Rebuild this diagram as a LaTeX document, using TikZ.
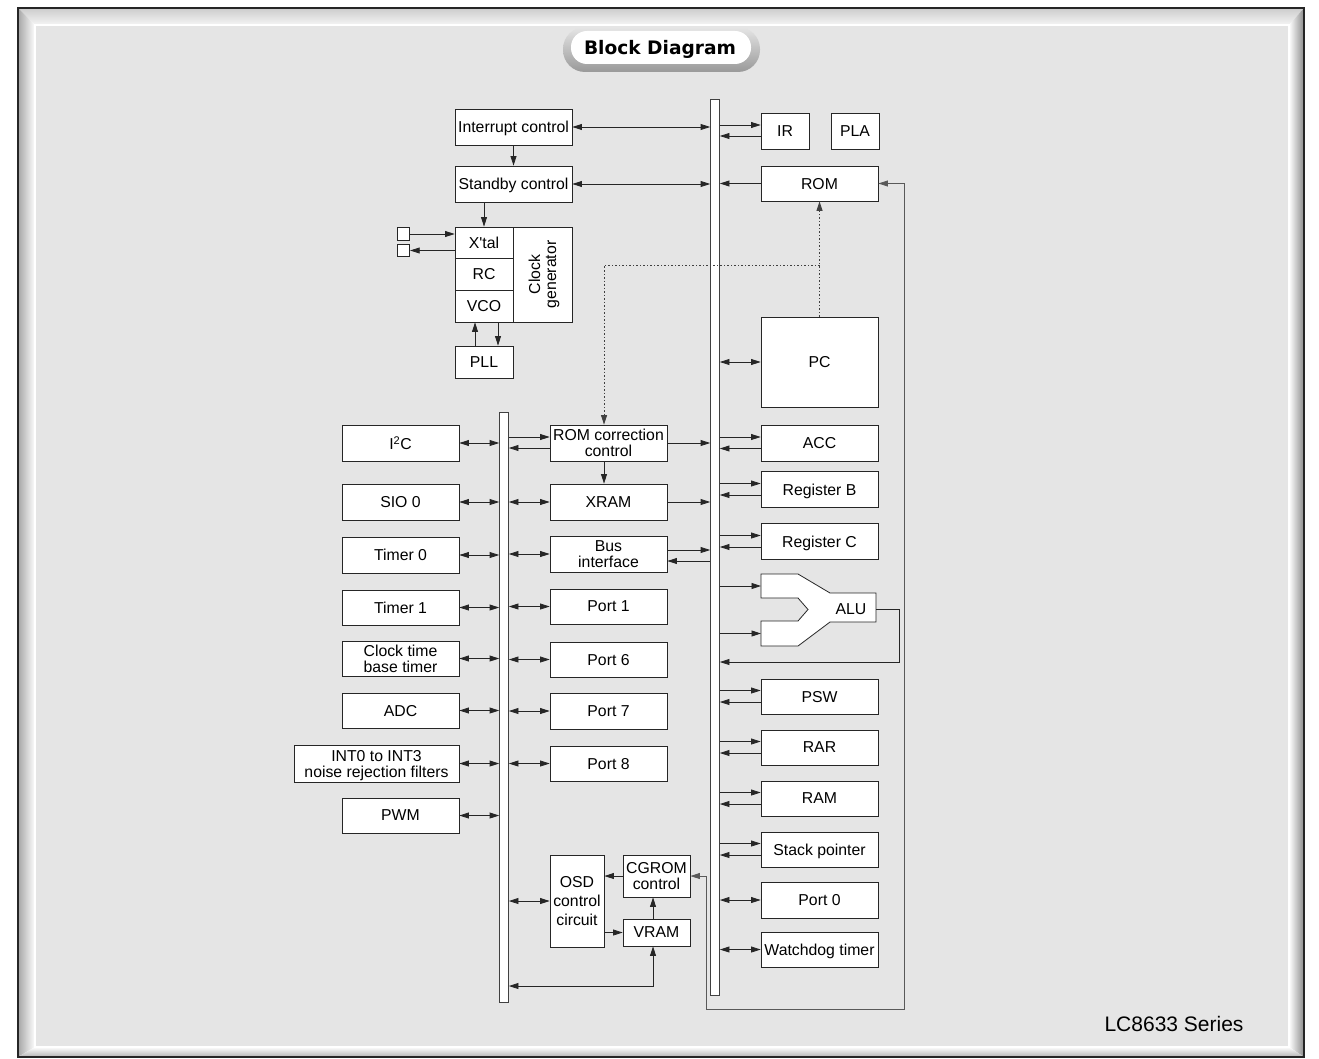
\documentclass[tikz,border=0pt]{standalone}
\usepackage{fontspec}
\setmainfont{Liberation Sans}
\newfontfamily\titlefont{DejaVu Sans}
\usetikzlibrary{arrows.meta,calc}
\tikzset{
  blk/.style={draw=black!85, fill=white, line width=0.8pt, inner sep=0pt,
    minimum width=117pt, minimum height=36pt, align=center, text depth=0pt,
    font=\fontsize{15.8}{16}\selectfont},
  bus/.style={draw=black!75, fill=white, line width=0.8pt, inner sep=0pt, minimum width=9pt},
  link/.style={line width=0.8pt, draw=black!85},
  dotlink/.style={line width=0.9pt, draw=black!75, dash pattern=on 1.5pt off 2pt},
  >={Triangle[length=9.5pt,width=6pt]},
}

\begin{document}
\begin{tikzpicture}[x=1pt,y=-1pt]
\useasboundingbox (0,0) rectangle (1319,1059);
\fill[white] (0,0) rectangle (1319,1059);

%Frame with bevel
\fill[gray!20] (35,25) rectangle (1289,1047);
\shade[top color=gray!40, bottom color=gray!8] (18,8) -- (1304,8) -- (1289,25) -- (35,25) -- cycle;
\shade[left color=gray!70, right color=white] (18,8) -- (35,25) -- (35,1047) -- (18,1057) -- cycle;
\shade[left color=white, right color=gray!90] (1289,25) -- (1304,8) -- (1304,1057) -- (1289,1047) -- cycle;
\shade[top color=white, bottom color=gray!60] (35,1047) -- (1289,1047) -- (1304,1057) -- (18,1057) -- cycle;
\draw[white, line width=1.2pt] (35,25) rectangle (1289,1047);
\draw[black!85, line width=1.2pt] (18,8) rectangle (1304,1057);

%Title
\shade[top color=gray!20, bottom color=gray!80, rounded corners=22pt] (563,27) rectangle (760,72);
\fill[white, rounded corners=16pt] (571,31) rectangle (751,64);
\node[font=\titlefont\bfseries\fontsize{18.6}{20}\selectfont] (title) at (660,49) {Block Diagram};

%Buses
\node[bus, minimum height=896pt] (mbus) at (715,547) {};
\node[bus, minimum height=590pt] (lbus) at (504,707) {};

%Control and clock
\node[blk] (intc) at (513.5,127) {Interrupt control};
\node[blk] (stby) at (513.5,184) {Standby control};
\node[blk, minimum width=58pt, minimum height=31pt] (xtal) at (484,242.5) {X\textquotesingle tal};
\node[blk, minimum width=58pt, minimum height=32pt] (rc) at (484,274) {RC};
\node[blk, minimum width=58pt, minimum height=32pt] (vco) at (484,306) {VCO};
\node[blk, rotate=90, minimum width=95pt, minimum height=59pt] (clkgen) at (542.5,274.5) {Clock\\generator};
\node[draw=black!85, fill=white, line width=0.8pt, inner sep=0pt, minimum size=12.5pt] (xin) at (403.5,234) {};
\node[draw=black!85, fill=white, line width=0.8pt, inner sep=0pt, minimum size=12.5pt] (xout) at (403.5,250.5) {};
\node[blk, minimum width=58pt, minimum height=32pt] (pll) at (484,362) {PLL};

%Right column
\node[blk, minimum width=48pt] (ir) at (785,131) {IR};
\node[blk, minimum width=48pt] (pla) at (855,131) {PLA};
\node[blk, minimum height=35pt] (rom) at (819.5,183.5) {ROM};
\node[blk, minimum height=90pt] (pc) at (819.5,362) {PC};
\node[blk] (acc) at (819.5,443) {ACC};
\node[blk] (regb) at (819.5,489.5) {Register B};
\node[blk] (regc) at (819.5,541.5) {Register C};
%Shape: ALU
\draw[line width=0.8pt, draw=black!85, fill=white] (761,574) -- (798,574) -- (830,593) -- (876,593) -- (876,622) -- (830,622) -- (798,646) -- (761,646) -- (761,621) -- (798,621) -- (808,609.5) -- (798,598) -- (761,598) -- cycle;
\node[font=\fontsize{15.8}{16}\selectfont] (alu) at (851,609) {ALU};
\coordinate (alua) at (761,586);
\coordinate (alub) at (761,633.5);
\coordinate (aluo) at (876,609);
\node[blk, minimum height=35pt] (psw) at (819.5,696.5) {PSW};
\node[blk, minimum height=35pt] (rar) at (819.5,747.5) {RAR};
\node[blk, minimum height=35pt] (ram) at (819.5,798.5) {RAM};
\node[blk, minimum height=35pt] (sp) at (819.5,849.5) {Stack pointer};
\node[blk] (port0) at (819.5,900) {Port 0};
\node[blk, minimum height=35pt] (wdt) at (819.5,949.5) {Watchdog timer};

%Middle column
\node[blk] (romc) at (608.5,443) {ROM correction\\control};
\node[blk] (xram) at (608.5,502) {XRAM};
\node[blk] (busif) at (608.5,554) {Bus\\interface};
\node[blk, minimum height=35pt] (port1) at (608.5,606.5) {Port 1};
\node[blk, minimum height=35pt] (port6) at (608.5,659.5) {Port 6};
\node[blk] (port7) at (608.5,711) {Port 7};
\node[blk, minimum height=35pt] (port8) at (608.5,763.5) {Port 8};

%Left column
\node[blk] (i2c) at (400.5,443) {I\textsuperscript{2}C};
\node[blk] (sio) at (400.5,502) {SIO 0};
\node[blk] (tmr0) at (400.5,555) {Timer 0};
\node[blk, minimum height=35pt] (tmr1) at (400.5,607.5) {Timer 1};
\node[blk, minimum height=35pt] (ctbt) at (400.5,658.5) {Clock time\\base timer};
\node[blk, minimum height=35pt] (adc) at (400.5,710.5) {ADC};
\node[blk, minimum width=165pt, minimum height=37pt] (intf) at (376.5,763.5) {INT0 to INT3\\noise rejection filters};
\node[blk, minimum height=35pt] (pwm) at (400.5,815.5) {PWM};

%OSD
\node[blk, minimum width=54pt, minimum height=92pt, font=\fontsize{15.8}{19}\selectfont] (osd) at (577,901) {OSD\\control\\circuit};
\node[blk, minimum width=67pt, minimum height=42pt] (cgrom) at (656.5,876) {CGROM\\control};
\node[blk, minimum width=67pt, minimum height=27pt] (vram) at (656.5,932.5) {VRAM};

% Text Node
\node[anchor=east, font=\fontsize{21}{24}\selectfont] (series) at (1247,1024) {LC8633 Series};

%Clock connectors
\draw[link,->] (intc) -- (stby);
\draw[link,->] (stby.south -| xtal.north) -- (xtal.north);
\draw[link,->] (xin.east) -- (xin.east -| xtal.west);
\draw[link,->] (xout.east -| xtal.west) -- (xout.east);
\draw[link,->] ([xshift=-9pt]pll.north) -- ([xshift=-9pt]vco.south);
\draw[link,->] ([xshift=14pt]vco.south) -- ([xshift=14pt]pll.north);
\draw[link,<->] (intc.east) -- (intc.east -| mbus.west);
\draw[link,<->] (stby.east) -- (stby.east -| mbus.west);

%Main bus to right column
\draw[link,->] ([yshift=6pt]ir.west -| mbus.east) -- ([yshift=6pt]ir.west);
\draw[link,->] ([yshift=-5pt]ir.west) -- ([yshift=-5pt]ir.west -| mbus.east);
\draw[link,->] (rom.west) -- (rom.west -| mbus.east);
\draw[link,<->] (mbus.east |- pc.west) -- (pc.west);
\draw[link,->] ([yshift=6pt]acc.west -| mbus.east) -- ([yshift=6pt]acc.west);
\draw[link,->] ([yshift=-5.5pt]acc.west) -- ([yshift=-5.5pt]acc.west -| mbus.east);
\draw[link,->] ([yshift=6pt]regb.west -| mbus.east) -- ([yshift=6pt]regb.west);
\draw[link,->] ([yshift=-5.5pt]regb.west) -- ([yshift=-5.5pt]regb.west -| mbus.east);
\draw[link,->] ([yshift=6pt]regc.west -| mbus.east) -- ([yshift=6pt]regc.west);
\draw[link,->] ([yshift=-5.5pt]regc.west) -- ([yshift=-5.5pt]regc.west -| mbus.east);
\draw[link,->] (mbus.east |- alua) -- (alua);
\draw[link,->] (mbus.east |- alub) -- (alub);
\draw[link,->] (aluo) -- ++(23,0) |- (mbus.east |- 0,662);
\draw[link,->] ([yshift=6pt]psw.west -| mbus.east) -- ([yshift=6pt]psw.west);
\draw[link,->] ([yshift=-5.5pt]psw.west) -- ([yshift=-5.5pt]psw.west -| mbus.east);
\draw[link,->] ([yshift=6pt]rar.west -| mbus.east) -- ([yshift=6pt]rar.west);
\draw[link,->] ([yshift=-5.5pt]rar.west) -- ([yshift=-5.5pt]rar.west -| mbus.east);
\draw[link,->] ([yshift=6pt]ram.west -| mbus.east) -- ([yshift=6pt]ram.west);
\draw[link,->] ([yshift=-5.5pt]ram.west) -- ([yshift=-5.5pt]ram.west -| mbus.east);
\draw[link,->] ([yshift=6pt]sp.west -| mbus.east) -- ([yshift=6pt]sp.west);
\draw[link,->] ([yshift=-5.5pt]sp.west) -- ([yshift=-5.5pt]sp.west -| mbus.east);
\draw[link,<->] (mbus.east |- port0.west) -- (port0.west);
\draw[link,<->] (mbus.east |- wdt.west) -- (wdt.west);

%Middle column to buses
\draw[link,->] (romc.east) -- (romc.east -| mbus.west);
\draw[link,->] (xram.east) -- (xram.east -| mbus.west);
\draw[link,->] ([yshift=4pt]busif.east) -- ([yshift=4pt]busif.east -| mbus.west);
\draw[link,->] ([yshift=-7pt]busif.east -| mbus.west) -- ([yshift=-7pt]busif.east);
\draw[link,->] ([yshift=6pt]romc.west -| lbus.east) -- ([yshift=6pt]romc.west);
\draw[link,->] ([yshift=-5pt]romc.west) -- ([yshift=-5pt]romc.west -| lbus.east);
\draw[link,->] ([xshift=-4.5pt]romc.south) -- ([xshift=-4.5pt]xram.north);
\draw[link,<->] (lbus.east |- xram.west) -- (xram.west);
\draw[link,<->] (lbus.east |- busif.west) -- (busif.west);
\draw[link,<->] (lbus.east |- port1.west) -- (port1.west);
\draw[link,<->] (lbus.east |- port6.west) -- (port6.west);
\draw[link,<->] (lbus.east |- port7.west) -- (port7.west);
\draw[link,<->] (lbus.east |- port8.west) -- (port8.west);
\draw[link,<->] (lbus.east |- osd.west) -- (osd.west);

%Left column to bus
\draw[link,<->] (i2c.east) -- (i2c.east -| lbus.west);
\draw[link,<->] (sio.east) -- (sio.east -| lbus.west);
\draw[link,<->] (tmr0.east) -- (tmr0.east -| lbus.west);
\draw[link,<->] (tmr1.east) -- (tmr1.east -| lbus.west);
\draw[link,<->] (ctbt.east) -- (ctbt.east -| lbus.west);
\draw[link,<->] (adc.east) -- (adc.east -| lbus.west);
\draw[link,<->] (intf.east) -- (intf.east -| lbus.west);
\draw[link,<->] (pwm.east) -- (pwm.east -| lbus.west);

%OSD connectors
\draw[link,->] (cgrom.west) -- (cgrom.west -| osd.east);
\draw[link,->] (osd.east |- vram.west) -- (vram.west);
\draw[link,->] ([xshift=-3.5pt]vram.north) -- ([xshift=-3.5pt]cgrom.south);
\draw[link,<->] (lbus.east |- 0,986) -| ([xshift=-3.5pt]vram.south);
\draw[link,<->, draw=black!65] (rom.east) -- ++(26,0) |- (706,1009) |- (cgrom.east);

%Dotted ROM paths
\coordinate (dtee) at (pc.north |- 0,265);
\draw[dotlink,->] (pc.north) -- (rom.south);
\draw[dotlink,->] (dtee) -| ([xshift=-4.5pt]romc.north);
\end{tikzpicture}
\end{document}
